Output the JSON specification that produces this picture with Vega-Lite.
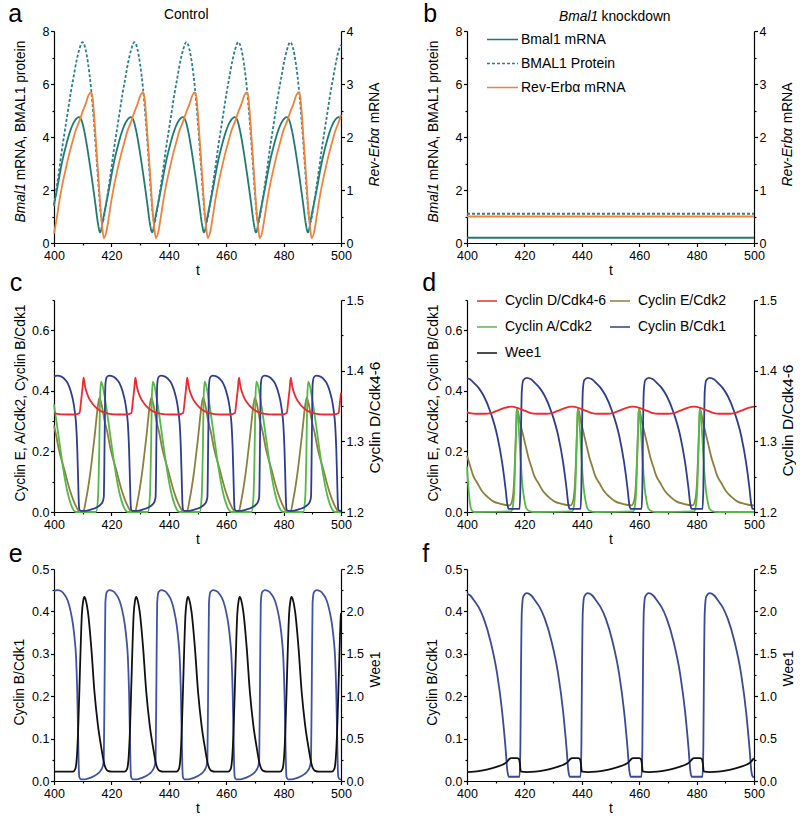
{
"$schema":"https://vega.github.io/schema/vega-lite/v6.json",
"padding":{"left":7,"top":1,"right":0,"bottom":0},
"background":"#ffffff",
"config":{"font":"Liberation Sans","view":{"stroke":null},
"axis":{"grid":false,"domainColor":"#000","tickColor":"#000","labelColor":"#000","titleColor":"#000","labelFont":"Liberation Sans","titleFont":"Liberation Sans","labelFontSize":12.5,"titleFontSize":13.8,"titleFontWeight":"normal","tickSize":3.5,"labelPadding":1.5,"domainWidth":1.2,"tickWidth":1.2,"labelFlush":false,"labelOverlap":false},
"axisX":{"labelPadding":3},
"legend":{"labelFont":"Liberation Sans","labelColor":"#000","labelFontSize":14}},
"datasets":{
"a":[
{"s":"m","t":400,"v":1.45},{"s":"m","t":401,"v":2.0},{"s":"m","t":402,"v":2.6},{"s":"m","t":403,"v":3.15},{"s":"m","t":404,"v":3.6},{"s":"m","t":405,"v":4.0},{"s":"m","t":406,"v":4.33},{"s":"m","t":407,"v":4.57},{"s":"m","t":408,"v":4.71},{"s":"m","t":408.7,"v":4.75},{"s":"m","t":409.5,"v":4.65},{"s":"m","t":410.5,"v":4.25},{"s":"m","t":411.5,"v":3.65},{"s":"m","t":412.5,"v":2.95},{"s":"m","t":413.5,"v":2.2},{"s":"m","t":414.5,"v":1.4},{"s":"m","t":415.3,"v":0.75},{"s":"m","t":416.1,"v":0.4},
{"s":"m","t":417.1,"v":0.9},{"s":"m","t":418.1,"v":1.45},{"s":"m","t":419.1,"v":2.0},{"s":"m","t":420.1,"v":2.6},{"s":"m","t":421.1,"v":3.15},{"s":"m","t":422.1,"v":3.6},{"s":"m","t":423.1,"v":4.0},{"s":"m","t":424.1,"v":4.33},{"s":"m","t":425.1,"v":4.57},{"s":"m","t":426.1,"v":4.71},{"s":"m","t":426.8,"v":4.75},{"s":"m","t":427.6,"v":4.65},{"s":"m","t":428.6,"v":4.25},{"s":"m","t":429.6,"v":3.65},{"s":"m","t":430.6,"v":2.95},{"s":"m","t":431.6,"v":2.2},{"s":"m","t":432.6,"v":1.4},{"s":"m","t":433.4,"v":0.75},{"s":"m","t":434.2,"v":0.4},
{"s":"m","t":435.2,"v":0.9},{"s":"m","t":436.2,"v":1.45},{"s":"m","t":437.2,"v":2.0},{"s":"m","t":438.2,"v":2.6},{"s":"m","t":439.2,"v":3.15},{"s":"m","t":440.2,"v":3.6},{"s":"m","t":441.2,"v":4.0},{"s":"m","t":442.2,"v":4.33},{"s":"m","t":443.2,"v":4.57},{"s":"m","t":444.2,"v":4.71},{"s":"m","t":444.9,"v":4.75},{"s":"m","t":445.7,"v":4.65},{"s":"m","t":446.7,"v":4.25},{"s":"m","t":447.7,"v":3.65},{"s":"m","t":448.7,"v":2.95},{"s":"m","t":449.7,"v":2.2},{"s":"m","t":450.7,"v":1.4},{"s":"m","t":451.5,"v":0.75},{"s":"m","t":452.3,"v":0.4},
{"s":"m","t":453.3,"v":0.9},{"s":"m","t":454.3,"v":1.45},{"s":"m","t":455.3,"v":2.0},{"s":"m","t":456.3,"v":2.6},{"s":"m","t":457.3,"v":3.15},{"s":"m","t":458.3,"v":3.6},{"s":"m","t":459.3,"v":4.0},{"s":"m","t":460.3,"v":4.33},{"s":"m","t":461.3,"v":4.57},{"s":"m","t":462.3,"v":4.71},{"s":"m","t":463.0,"v":4.75},{"s":"m","t":463.8,"v":4.65},{"s":"m","t":464.8,"v":4.25},{"s":"m","t":465.8,"v":3.65},{"s":"m","t":466.8,"v":2.95},{"s":"m","t":467.8,"v":2.2},{"s":"m","t":468.8,"v":1.4},{"s":"m","t":469.6,"v":0.75},{"s":"m","t":470.4,"v":0.4},
{"s":"m","t":471.4,"v":0.9},{"s":"m","t":472.4,"v":1.45},{"s":"m","t":473.4,"v":2.0},{"s":"m","t":474.4,"v":2.6},{"s":"m","t":475.4,"v":3.15},{"s":"m","t":476.4,"v":3.6},{"s":"m","t":477.4,"v":4.0},{"s":"m","t":478.4,"v":4.33},{"s":"m","t":479.4,"v":4.57},{"s":"m","t":480.4,"v":4.71},{"s":"m","t":481.1,"v":4.75},{"s":"m","t":481.9,"v":4.65},{"s":"m","t":482.9,"v":4.25},{"s":"m","t":483.9,"v":3.65},{"s":"m","t":484.9,"v":2.95},{"s":"m","t":485.9,"v":2.2},{"s":"m","t":486.9,"v":1.4},{"s":"m","t":487.7,"v":0.75},{"s":"m","t":488.5,"v":0.4},
{"s":"m","t":489.5,"v":0.9},{"s":"m","t":490.5,"v":1.45},{"s":"m","t":491.5,"v":2.0},{"s":"m","t":492.5,"v":2.6},{"s":"m","t":493.5,"v":3.15},{"s":"m","t":494.5,"v":3.6},{"s":"m","t":495.5,"v":4.0},{"s":"m","t":496.5,"v":4.33},{"s":"m","t":497.5,"v":4.57},{"s":"m","t":498.5,"v":4.71},{"s":"m","t":499.2,"v":4.75},{"s":"m","t":500,"v":4.68},
{"s":"p","t":400,"v":1.4},{"s":"p","t":400.8,"v":2.0},{"s":"p","t":401.8,"v":2.75},{"s":"p","t":402.8,"v":3.55},{"s":"p","t":403.8,"v":4.25},{"s":"p","t":404.8,"v":4.95},{"s":"p","t":405.8,"v":5.65},{"s":"p","t":406.8,"v":6.25},{"s":"p","t":407.8,"v":6.85},{"s":"p","t":408.8,"v":7.3},{"s":"p","t":409.9,"v":7.58},{"s":"p","t":410.9,"v":7.35},{"s":"p","t":411.9,"v":6.75},{"s":"p","t":412.9,"v":5.85},{"s":"p","t":413.9,"v":4.6},{"s":"p","t":414.9,"v":3.1},{"s":"p","t":415.9,"v":1.6},{"s":"p","t":416.4,"v":1.0},{"s":"p","t":416.9,"v":0.78},
{"s":"p","t":417.9,"v":1.3},{"s":"p","t":418.9,"v":2.0},{"s":"p","t":419.9,"v":2.75},{"s":"p","t":420.9,"v":3.55},{"s":"p","t":421.9,"v":4.25},{"s":"p","t":422.9,"v":4.95},{"s":"p","t":423.9,"v":5.65},{"s":"p","t":424.9,"v":6.25},{"s":"p","t":425.9,"v":6.85},{"s":"p","t":426.9,"v":7.3},{"s":"p","t":428.0,"v":7.58},{"s":"p","t":429.0,"v":7.35},{"s":"p","t":430.0,"v":6.75},{"s":"p","t":431.0,"v":5.85},{"s":"p","t":432.0,"v":4.6},{"s":"p","t":433.0,"v":3.1},{"s":"p","t":434.0,"v":1.6},{"s":"p","t":434.5,"v":1.0},{"s":"p","t":435.0,"v":0.78},
{"s":"p","t":436.0,"v":1.3},{"s":"p","t":437.0,"v":2.0},{"s":"p","t":438.0,"v":2.75},{"s":"p","t":439.0,"v":3.55},{"s":"p","t":440.0,"v":4.25},{"s":"p","t":441.0,"v":4.95},{"s":"p","t":442.0,"v":5.65},{"s":"p","t":443.0,"v":6.25},{"s":"p","t":444.0,"v":6.85},{"s":"p","t":445.0,"v":7.3},{"s":"p","t":446.1,"v":7.58},{"s":"p","t":447.1,"v":7.35},{"s":"p","t":448.1,"v":6.75},{"s":"p","t":449.1,"v":5.85},{"s":"p","t":450.1,"v":4.6},{"s":"p","t":451.1,"v":3.1},{"s":"p","t":452.1,"v":1.6},{"s":"p","t":452.6,"v":1.0},{"s":"p","t":453.1,"v":0.78},
{"s":"p","t":454.1,"v":1.3},{"s":"p","t":455.1,"v":2.0},{"s":"p","t":456.1,"v":2.75},{"s":"p","t":457.1,"v":3.55},{"s":"p","t":458.1,"v":4.25},{"s":"p","t":459.1,"v":4.95},{"s":"p","t":460.1,"v":5.65},{"s":"p","t":461.1,"v":6.25},{"s":"p","t":462.1,"v":6.85},{"s":"p","t":463.1,"v":7.3},{"s":"p","t":464.2,"v":7.58},{"s":"p","t":465.2,"v":7.35},{"s":"p","t":466.2,"v":6.75},{"s":"p","t":467.2,"v":5.85},{"s":"p","t":468.2,"v":4.6},{"s":"p","t":469.2,"v":3.1},{"s":"p","t":470.2,"v":1.6},{"s":"p","t":470.7,"v":1.0},{"s":"p","t":471.2,"v":0.78},
{"s":"p","t":472.2,"v":1.3},{"s":"p","t":473.2,"v":2.0},{"s":"p","t":474.2,"v":2.75},{"s":"p","t":475.2,"v":3.55},{"s":"p","t":476.2,"v":4.25},{"s":"p","t":477.2,"v":4.95},{"s":"p","t":478.2,"v":5.65},{"s":"p","t":479.2,"v":6.25},{"s":"p","t":480.2,"v":6.85},{"s":"p","t":481.2,"v":7.3},{"s":"p","t":482.3,"v":7.58},{"s":"p","t":483.3,"v":7.35},{"s":"p","t":484.3,"v":6.75},{"s":"p","t":485.3,"v":5.85},{"s":"p","t":486.3,"v":4.6},{"s":"p","t":487.3,"v":3.1},{"s":"p","t":488.3,"v":1.6},{"s":"p","t":488.8,"v":1.0},{"s":"p","t":489.3,"v":0.78},
{"s":"p","t":490.3,"v":1.3},{"s":"p","t":491.3,"v":2.0},{"s":"p","t":492.3,"v":2.75},{"s":"p","t":493.3,"v":3.55},{"s":"p","t":494.3,"v":4.25},{"s":"p","t":495.3,"v":4.95},{"s":"p","t":496.3,"v":5.65},{"s":"p","t":497.3,"v":6.25},{"s":"p","t":498.3,"v":6.85},{"s":"p","t":499.3,"v":7.3},{"s":"p","t":500,"v":7.48},
{"s":"r","t":400,"v":0.18},{"s":"r","t":400.9,"v":0.45},{"s":"r","t":401.8,"v":0.77},{"s":"r","t":402.9,"v":1.1},{"s":"r","t":404.1,"v":1.4},{"s":"r","t":405.4,"v":1.7},{"s":"r","t":406.4,"v":1.9},{"s":"r","t":407.4,"v":2.1},{"s":"r","t":408.7,"v":2.28},{"s":"r","t":409.9,"v":2.47},{"s":"r","t":411.0,"v":2.62},{"s":"r","t":411.9,"v":2.77},{"s":"r","t":412.8,"v":2.84},{"s":"r","t":413.3,"v":2.79},{"s":"r","t":413.9,"v":2.47},{"s":"r","t":414.5,"v":2.0},{"s":"r","t":415.1,"v":1.53},{"s":"r","t":415.7,"v":1.05},{"s":"r","t":416.2,"v":0.64},{"s":"r","t":416.8,"v":0.3},{"s":"r","t":417.4,"v":0.09},
{"s":"r","t":418.2,"v":0.2},{"s":"r","t":419.0,"v":0.45},{"s":"r","t":419.9,"v":0.77},{"s":"r","t":421.0,"v":1.1},{"s":"r","t":422.2,"v":1.4},{"s":"r","t":423.5,"v":1.7},{"s":"r","t":424.5,"v":1.9},{"s":"r","t":425.5,"v":2.1},{"s":"r","t":426.8,"v":2.28},{"s":"r","t":428.0,"v":2.47},{"s":"r","t":429.1,"v":2.62},{"s":"r","t":430.0,"v":2.77},{"s":"r","t":430.9,"v":2.84},{"s":"r","t":431.4,"v":2.79},{"s":"r","t":432.0,"v":2.47},{"s":"r","t":432.6,"v":2.0},{"s":"r","t":433.2,"v":1.53},{"s":"r","t":433.8,"v":1.05},{"s":"r","t":434.3,"v":0.64},{"s":"r","t":434.9,"v":0.3},{"s":"r","t":435.5,"v":0.09},
{"s":"r","t":436.3,"v":0.2},{"s":"r","t":437.1,"v":0.45},{"s":"r","t":438.0,"v":0.77},{"s":"r","t":439.1,"v":1.1},{"s":"r","t":440.3,"v":1.4},{"s":"r","t":441.6,"v":1.7},{"s":"r","t":442.6,"v":1.9},{"s":"r","t":443.6,"v":2.1},{"s":"r","t":444.9,"v":2.28},{"s":"r","t":446.1,"v":2.47},{"s":"r","t":447.2,"v":2.62},{"s":"r","t":448.1,"v":2.77},{"s":"r","t":449.0,"v":2.84},{"s":"r","t":449.5,"v":2.79},{"s":"r","t":450.1,"v":2.47},{"s":"r","t":450.7,"v":2.0},{"s":"r","t":451.3,"v":1.53},{"s":"r","t":451.9,"v":1.05},{"s":"r","t":452.4,"v":0.64},{"s":"r","t":453.0,"v":0.3},{"s":"r","t":453.6,"v":0.09},
{"s":"r","t":454.4,"v":0.2},{"s":"r","t":455.2,"v":0.45},{"s":"r","t":456.1,"v":0.77},{"s":"r","t":457.2,"v":1.1},{"s":"r","t":458.4,"v":1.4},{"s":"r","t":459.7,"v":1.7},{"s":"r","t":460.7,"v":1.9},{"s":"r","t":461.7,"v":2.1},{"s":"r","t":463.0,"v":2.28},{"s":"r","t":464.2,"v":2.47},{"s":"r","t":465.3,"v":2.62},{"s":"r","t":466.2,"v":2.77},{"s":"r","t":467.1,"v":2.84},{"s":"r","t":467.6,"v":2.79},{"s":"r","t":468.2,"v":2.47},{"s":"r","t":468.8,"v":2.0},{"s":"r","t":469.4,"v":1.53},{"s":"r","t":470.0,"v":1.05},{"s":"r","t":470.5,"v":0.64},{"s":"r","t":471.1,"v":0.3},{"s":"r","t":471.7,"v":0.09},
{"s":"r","t":472.5,"v":0.2},{"s":"r","t":473.3,"v":0.45},{"s":"r","t":474.2,"v":0.77},{"s":"r","t":475.3,"v":1.1},{"s":"r","t":476.5,"v":1.4},{"s":"r","t":477.8,"v":1.7},{"s":"r","t":478.8,"v":1.9},{"s":"r","t":479.8,"v":2.1},{"s":"r","t":481.1,"v":2.28},{"s":"r","t":482.3,"v":2.47},{"s":"r","t":483.4,"v":2.62},{"s":"r","t":484.3,"v":2.77},{"s":"r","t":485.2,"v":2.84},{"s":"r","t":485.7,"v":2.79},{"s":"r","t":486.3,"v":2.47},{"s":"r","t":486.9,"v":2.0},{"s":"r","t":487.5,"v":1.53},{"s":"r","t":488.1,"v":1.05},{"s":"r","t":488.6,"v":0.64},{"s":"r","t":489.2,"v":0.3},{"s":"r","t":489.8,"v":0.09},
{"s":"r","t":490.6,"v":0.2},{"s":"r","t":491.4,"v":0.45},{"s":"r","t":492.3,"v":0.77},{"s":"r","t":493.4,"v":1.1},{"s":"r","t":494.6,"v":1.4},{"s":"r","t":495.9,"v":1.7},{"s":"r","t":496.9,"v":1.9},{"s":"r","t":497.9,"v":2.1},{"s":"r","t":499.2,"v":2.28},{"s":"r","t":500,"v":2.42}
],
"b":[{"s":"Bmal1 mRNA","t":400,"v":0.2},{"s":"Bmal1 mRNA","t":500,"v":0.2},{"s":"BMAL1 Protein","t":400,"v":1.1},{"s":"BMAL1 Protein","t":500,"v":1.1},{"s":"Rev-Erbα mRNA","t":400,"v":0.5},{"s":"Rev-Erbα mRNA","t":500,"v":0.5}],
"cc":[
{"s":"E","t":400,"v":0.285},{"s":"E","t":400.6,"v":0.26},{"s":"E","t":401.6,"v":0.21},{"s":"E","t":403.6,"v":0.14},{"s":"E","t":405.6,"v":0.07},{"s":"E","t":407.6,"v":0.02},{"s":"E","t":409.1,"v":0.0},{"s":"E","t":410.15,"v":0.0},{"s":"E","t":411.15,"v":0.04},{"s":"E","t":412.65,"v":0.13},{"s":"E","t":414.15,"v":0.25},{"s":"E","t":415.45,"v":0.36},{"s":"E","t":415.85,"v":0.377},{"s":"E","t":416.45,"v":0.36},{"s":"E","t":417.65,"v":0.3},{"s":"E","t":418.65,"v":0.26},{"s":"E","t":419.65,"v":0.21},{"s":"E","t":421.65,"v":0.14},{"s":"E","t":423.65,"v":0.07},{"s":"E","t":425.65,"v":0.02},{"s":"E","t":427.15,"v":0.0},
{"s":"E","t":428.2,"v":0.0},{"s":"E","t":429.2,"v":0.04},{"s":"E","t":430.7,"v":0.13},{"s":"E","t":432.2,"v":0.25},{"s":"E","t":433.5,"v":0.36},{"s":"E","t":433.9,"v":0.377},{"s":"E","t":434.5,"v":0.36},{"s":"E","t":435.7,"v":0.3},{"s":"E","t":436.7,"v":0.26},{"s":"E","t":437.7,"v":0.21},{"s":"E","t":439.7,"v":0.14},{"s":"E","t":441.7,"v":0.07},{"s":"E","t":443.7,"v":0.02},{"s":"E","t":445.2,"v":0.0},
{"s":"E","t":446.25,"v":0.0},{"s":"E","t":447.25,"v":0.04},{"s":"E","t":448.75,"v":0.13},{"s":"E","t":450.25,"v":0.25},{"s":"E","t":451.55,"v":0.36},{"s":"E","t":451.95,"v":0.377},{"s":"E","t":452.55,"v":0.36},{"s":"E","t":453.75,"v":0.3},{"s":"E","t":454.75,"v":0.26},{"s":"E","t":455.75,"v":0.21},{"s":"E","t":457.75,"v":0.14},{"s":"E","t":459.75,"v":0.07},{"s":"E","t":461.75,"v":0.02},{"s":"E","t":463.25,"v":0.0},
{"s":"E","t":464.3,"v":0.0},{"s":"E","t":465.3,"v":0.04},{"s":"E","t":466.8,"v":0.13},{"s":"E","t":468.3,"v":0.25},{"s":"E","t":469.6,"v":0.36},{"s":"E","t":470.0,"v":0.377},{"s":"E","t":470.6,"v":0.36},{"s":"E","t":471.8,"v":0.3},{"s":"E","t":472.8,"v":0.26},{"s":"E","t":473.8,"v":0.21},{"s":"E","t":475.8,"v":0.14},{"s":"E","t":477.8,"v":0.07},{"s":"E","t":479.8,"v":0.02},{"s":"E","t":481.3,"v":0.0},
{"s":"E","t":482.35,"v":0.0},{"s":"E","t":483.35,"v":0.04},{"s":"E","t":484.85,"v":0.13},{"s":"E","t":486.35,"v":0.25},{"s":"E","t":487.65,"v":0.36},{"s":"E","t":488.05,"v":0.377},{"s":"E","t":488.65,"v":0.36},{"s":"E","t":489.85,"v":0.3},{"s":"E","t":490.85,"v":0.26},{"s":"E","t":491.85,"v":0.21},{"s":"E","t":493.85,"v":0.14},{"s":"E","t":495.85,"v":0.07},{"s":"E","t":497.85,"v":0.02},{"s":"E","t":499.35,"v":0.0},{"s":"E","t":500,"v":0.0},
{"s":"A","t":400,"v":0.355},{"s":"A","t":401.6,"v":0.25},{"s":"A","t":403.1,"v":0.15},{"s":"A","t":404.6,"v":0.07},{"s":"A","t":406.1,"v":0.02},{"s":"A","t":407.6,"v":0.0},{"s":"A","t":414.65,"v":0.0},{"s":"A","t":415.35,"v":0.05},{"s":"A","t":415.75,"v":0.2},{"s":"A","t":416.05,"v":0.38},{"s":"A","t":416.4,"v":0.43},{"s":"A","t":416.85,"v":0.42},{"s":"A","t":418.15,"v":0.35},{"s":"A","t":419.65,"v":0.25},{"s":"A","t":421.15,"v":0.15},{"s":"A","t":422.65,"v":0.07},{"s":"A","t":424.15,"v":0.02},{"s":"A","t":425.65,"v":0.0},
{"s":"A","t":432.7,"v":0.0},{"s":"A","t":433.4,"v":0.05},{"s":"A","t":433.8,"v":0.2},{"s":"A","t":434.1,"v":0.38},{"s":"A","t":434.45,"v":0.43},{"s":"A","t":434.9,"v":0.42},{"s":"A","t":436.2,"v":0.35},{"s":"A","t":437.7,"v":0.25},{"s":"A","t":439.2,"v":0.15},{"s":"A","t":440.7,"v":0.07},{"s":"A","t":442.2,"v":0.02},{"s":"A","t":443.7,"v":0.0},
{"s":"A","t":450.75,"v":0.0},{"s":"A","t":451.45,"v":0.05},{"s":"A","t":451.85,"v":0.2},{"s":"A","t":452.15,"v":0.38},{"s":"A","t":452.5,"v":0.43},{"s":"A","t":452.95,"v":0.42},{"s":"A","t":454.25,"v":0.35},{"s":"A","t":455.75,"v":0.25},{"s":"A","t":457.25,"v":0.15},{"s":"A","t":458.75,"v":0.07},{"s":"A","t":460.25,"v":0.02},{"s":"A","t":461.75,"v":0.0},
{"s":"A","t":468.8,"v":0.0},{"s":"A","t":469.5,"v":0.05},{"s":"A","t":469.9,"v":0.2},{"s":"A","t":470.2,"v":0.38},{"s":"A","t":470.55,"v":0.43},{"s":"A","t":471.0,"v":0.42},{"s":"A","t":472.3,"v":0.35},{"s":"A","t":473.8,"v":0.25},{"s":"A","t":475.3,"v":0.15},{"s":"A","t":476.8,"v":0.07},{"s":"A","t":478.3,"v":0.02},{"s":"A","t":479.8,"v":0.0},
{"s":"A","t":486.85,"v":0.0},{"s":"A","t":487.55,"v":0.05},{"s":"A","t":487.95,"v":0.2},{"s":"A","t":488.25,"v":0.38},{"s":"A","t":488.6,"v":0.43},{"s":"A","t":489.05,"v":0.42},{"s":"A","t":490.35,"v":0.35},{"s":"A","t":491.85,"v":0.25},{"s":"A","t":493.35,"v":0.15},{"s":"A","t":494.85,"v":0.07},{"s":"A","t":496.35,"v":0.02},{"s":"A","t":497.85,"v":0.0},{"s":"A","t":500,"v":0.0},
{"s":"D","t":400,"v":1.340},{"s":"D","t":401.25,"v":1.339},{"s":"D","t":404.25,"v":1.338},{"s":"D","t":407.25,"v":1.338},{"s":"D","t":408.9,"v":1.340},{"s":"D","t":409.4,"v":1.356},{"s":"D","t":409.9,"v":1.374},{"s":"D","t":410.3,"v":1.390},{"s":"D","t":410.8,"v":1.378},{"s":"D","t":411.4,"v":1.369},{"s":"D","t":412.3,"v":1.360},{"s":"D","t":413.3,"v":1.354},{"s":"D","t":414.3,"v":1.349},{"s":"D","t":415.8,"v":1.344},{"s":"D","t":417.3,"v":1.341},{"s":"D","t":419.3,"v":1.339},{"s":"D","t":422.3,"v":1.338},{"s":"D","t":425.3,"v":1.338},
{"s":"D","t":426.95,"v":1.340},{"s":"D","t":427.45,"v":1.356},{"s":"D","t":427.95,"v":1.374},{"s":"D","t":428.35,"v":1.390},{"s":"D","t":428.85,"v":1.378},{"s":"D","t":429.45,"v":1.369},{"s":"D","t":430.35,"v":1.360},{"s":"D","t":431.35,"v":1.354},{"s":"D","t":432.35,"v":1.349},{"s":"D","t":433.85,"v":1.344},{"s":"D","t":435.35,"v":1.341},{"s":"D","t":437.35,"v":1.339},{"s":"D","t":440.35,"v":1.338},{"s":"D","t":443.35,"v":1.338},
{"s":"D","t":445.0,"v":1.340},{"s":"D","t":445.5,"v":1.356},{"s":"D","t":446.0,"v":1.374},{"s":"D","t":446.4,"v":1.390},{"s":"D","t":446.9,"v":1.378},{"s":"D","t":447.5,"v":1.369},{"s":"D","t":448.4,"v":1.360},{"s":"D","t":449.4,"v":1.354},{"s":"D","t":450.4,"v":1.349},{"s":"D","t":451.9,"v":1.344},{"s":"D","t":453.4,"v":1.341},{"s":"D","t":455.4,"v":1.339},{"s":"D","t":458.4,"v":1.338},{"s":"D","t":461.4,"v":1.338},
{"s":"D","t":463.05,"v":1.340},{"s":"D","t":463.55,"v":1.356},{"s":"D","t":464.05,"v":1.374},{"s":"D","t":464.45,"v":1.390},{"s":"D","t":464.95,"v":1.378},{"s":"D","t":465.55,"v":1.369},{"s":"D","t":466.45,"v":1.360},{"s":"D","t":467.45,"v":1.354},{"s":"D","t":468.45,"v":1.349},{"s":"D","t":469.95,"v":1.344},{"s":"D","t":471.45,"v":1.341},{"s":"D","t":473.45,"v":1.339},{"s":"D","t":476.45,"v":1.338},{"s":"D","t":479.45,"v":1.338},
{"s":"D","t":481.1,"v":1.340},{"s":"D","t":481.6,"v":1.356},{"s":"D","t":482.1,"v":1.374},{"s":"D","t":482.5,"v":1.390},{"s":"D","t":483.0,"v":1.378},{"s":"D","t":483.6,"v":1.369},{"s":"D","t":484.5,"v":1.360},{"s":"D","t":485.5,"v":1.354},{"s":"D","t":486.5,"v":1.349},{"s":"D","t":488.0,"v":1.344},{"s":"D","t":489.5,"v":1.341},{"s":"D","t":491.5,"v":1.339},{"s":"D","t":494.5,"v":1.338},{"s":"D","t":497.5,"v":1.338},
{"s":"D","t":499.15,"v":1.340},{"s":"D","t":499.65,"v":1.356},{"s":"D","t":500,"v":1.369}
],
"cB":[
{"s":"B","t":400,"v":0.448},{"s":"B","t":401.2,"v":0.45},{"s":"B","t":402.4,"v":0.448},{"s":"B","t":403.6,"v":0.44},{"s":"B","t":404.8,"v":0.425},{"s":"B","t":405.8,"v":0.40},{"s":"B","t":406.6,"v":0.37},{"s":"B","t":407.2,"v":0.335},{"s":"B","t":407.7,"v":0.29},{"s":"B","t":408.1,"v":0.21},{"s":"B","t":408.4,"v":0.11},{"s":"B","t":408.6,"v":0.04},{"s":"B","t":408.8,"v":0.01},{"s":"B","t":409.3,"v":0.004},{"s":"B","t":410.8,"v":0.004},{"s":"B","t":412.8,"v":0.008},{"s":"B","t":414.8,"v":0.015},{"s":"B","t":416.3,"v":0.025},{"s":"B","t":417.0,"v":0.035},{"s":"B","t":417.35,"v":0.05},
{"s":"B","t":417.65,"v":0.25},{"s":"B","t":417.9,"v":0.42},{"s":"B","t":418.35,"v":0.445},{"s":"B","t":419.25,"v":0.45},{"s":"B","t":420.45,"v":0.448},{"s":"B","t":421.65,"v":0.44},{"s":"B","t":422.85,"v":0.425},{"s":"B","t":423.85,"v":0.40},{"s":"B","t":424.65,"v":0.37},{"s":"B","t":425.25,"v":0.335},{"s":"B","t":425.75,"v":0.29},{"s":"B","t":426.15,"v":0.21},{"s":"B","t":426.45,"v":0.11},{"s":"B","t":426.65,"v":0.04},{"s":"B","t":426.85,"v":0.01},{"s":"B","t":427.35,"v":0.004},{"s":"B","t":428.85,"v":0.004},{"s":"B","t":430.85,"v":0.008},{"s":"B","t":432.85,"v":0.015},{"s":"B","t":434.35,"v":0.025},{"s":"B","t":435.05,"v":0.035},{"s":"B","t":435.4,"v":0.05},
{"s":"B","t":435.7,"v":0.25},{"s":"B","t":435.95,"v":0.42},{"s":"B","t":436.4,"v":0.445},{"s":"B","t":437.3,"v":0.45},{"s":"B","t":438.5,"v":0.448},{"s":"B","t":439.7,"v":0.44},{"s":"B","t":440.9,"v":0.425},{"s":"B","t":441.9,"v":0.40},{"s":"B","t":442.7,"v":0.37},{"s":"B","t":443.3,"v":0.335},{"s":"B","t":443.8,"v":0.29},{"s":"B","t":444.2,"v":0.21},{"s":"B","t":444.5,"v":0.11},{"s":"B","t":444.7,"v":0.04},{"s":"B","t":444.9,"v":0.01},{"s":"B","t":445.4,"v":0.004},{"s":"B","t":446.9,"v":0.004},{"s":"B","t":448.9,"v":0.008},{"s":"B","t":450.9,"v":0.015},{"s":"B","t":452.4,"v":0.025},{"s":"B","t":453.1,"v":0.035},{"s":"B","t":453.45,"v":0.05},
{"s":"B","t":453.75,"v":0.25},{"s":"B","t":454.0,"v":0.42},{"s":"B","t":454.45,"v":0.445},{"s":"B","t":455.35,"v":0.45},{"s":"B","t":456.55,"v":0.448},{"s":"B","t":457.75,"v":0.44},{"s":"B","t":458.95,"v":0.425},{"s":"B","t":459.95,"v":0.40},{"s":"B","t":460.75,"v":0.37},{"s":"B","t":461.35,"v":0.335},{"s":"B","t":461.85,"v":0.29},{"s":"B","t":462.25,"v":0.21},{"s":"B","t":462.55,"v":0.11},{"s":"B","t":462.75,"v":0.04},{"s":"B","t":462.95,"v":0.01},{"s":"B","t":463.45,"v":0.004},{"s":"B","t":464.95,"v":0.004},{"s":"B","t":466.95,"v":0.008},{"s":"B","t":468.95,"v":0.015},{"s":"B","t":470.45,"v":0.025},{"s":"B","t":471.15,"v":0.035},{"s":"B","t":471.5,"v":0.05},
{"s":"B","t":471.8,"v":0.25},{"s":"B","t":472.05,"v":0.42},{"s":"B","t":472.5,"v":0.445},{"s":"B","t":473.4,"v":0.45},{"s":"B","t":474.6,"v":0.448},{"s":"B","t":475.8,"v":0.44},{"s":"B","t":477.0,"v":0.425},{"s":"B","t":478.0,"v":0.40},{"s":"B","t":478.8,"v":0.37},{"s":"B","t":479.4,"v":0.335},{"s":"B","t":479.9,"v":0.29},{"s":"B","t":480.3,"v":0.21},{"s":"B","t":480.6,"v":0.11},{"s":"B","t":480.8,"v":0.04},{"s":"B","t":481.0,"v":0.01},{"s":"B","t":481.5,"v":0.004},{"s":"B","t":483.0,"v":0.004},{"s":"B","t":485.0,"v":0.008},{"s":"B","t":487.0,"v":0.015},{"s":"B","t":488.5,"v":0.025},{"s":"B","t":489.2,"v":0.035},{"s":"B","t":489.55,"v":0.05},
{"s":"B","t":489.85,"v":0.25},{"s":"B","t":490.1,"v":0.42},{"s":"B","t":490.55,"v":0.445},{"s":"B","t":491.45,"v":0.45},{"s":"B","t":492.65,"v":0.448},{"s":"B","t":493.85,"v":0.44},{"s":"B","t":495.05,"v":0.425},{"s":"B","t":496.05,"v":0.40},{"s":"B","t":496.85,"v":0.37},{"s":"B","t":497.45,"v":0.335},{"s":"B","t":497.95,"v":0.29},{"s":"B","t":498.35,"v":0.21},{"s":"B","t":498.65,"v":0.11},{"s":"B","t":498.85,"v":0.04},{"s":"B","t":499.05,"v":0.01},{"s":"B","t":499.55,"v":0.004},{"s":"B","t":500,"v":0.004}
],
"cW":[
{"s":"W","t":400,"v":0.11},{"s":"W","t":406.6,"v":0.11},{"s":"W","t":407.4,"v":0.14},{"s":"W","t":408.0,"v":0.3},{"s":"W","t":408.4,"v":0.58},{"s":"W","t":409.1,"v":1.37},{"s":"W","t":409.7,"v":1.96},{"s":"W","t":410.2,"v":2.13},{"s":"W","t":410.6,"v":2.17},{"s":"W","t":411.1,"v":2.13},{"s":"W","t":411.8,"v":2.0},{"s":"W","t":413.0,"v":1.57},{"s":"W","t":414.1,"v":1.05},{"s":"W","t":415.3,"v":0.66},{"s":"W","t":416.5,"v":0.39},{"s":"W","t":417.6,"v":0.19},{"s":"W","t":418.8,"v":0.12},{"s":"W","t":420.1,"v":0.11},
{"s":"W","t":424.65,"v":0.11},{"s":"W","t":425.45,"v":0.14},{"s":"W","t":426.05,"v":0.3},{"s":"W","t":426.45,"v":0.58},{"s":"W","t":427.15,"v":1.37},{"s":"W","t":427.75,"v":1.96},{"s":"W","t":428.25,"v":2.13},{"s":"W","t":428.65,"v":2.17},{"s":"W","t":429.15,"v":2.13},{"s":"W","t":429.85,"v":2.0},{"s":"W","t":431.05,"v":1.57},{"s":"W","t":432.15,"v":1.05},{"s":"W","t":433.35,"v":0.66},{"s":"W","t":434.55,"v":0.39},{"s":"W","t":435.65,"v":0.19},{"s":"W","t":436.85,"v":0.12},{"s":"W","t":438.15,"v":0.11},
{"s":"W","t":442.7,"v":0.11},{"s":"W","t":443.5,"v":0.14},{"s":"W","t":444.1,"v":0.3},{"s":"W","t":444.5,"v":0.58},{"s":"W","t":445.2,"v":1.37},{"s":"W","t":445.8,"v":1.96},{"s":"W","t":446.3,"v":2.13},{"s":"W","t":446.7,"v":2.17},{"s":"W","t":447.2,"v":2.13},{"s":"W","t":447.9,"v":2.0},{"s":"W","t":449.1,"v":1.57},{"s":"W","t":450.2,"v":1.05},{"s":"W","t":451.4,"v":0.66},{"s":"W","t":452.6,"v":0.39},{"s":"W","t":453.7,"v":0.19},{"s":"W","t":454.9,"v":0.12},{"s":"W","t":456.2,"v":0.11},
{"s":"W","t":460.75,"v":0.11},{"s":"W","t":461.55,"v":0.14},{"s":"W","t":462.15,"v":0.3},{"s":"W","t":462.55,"v":0.58},{"s":"W","t":463.25,"v":1.37},{"s":"W","t":463.85,"v":1.96},{"s":"W","t":464.35,"v":2.13},{"s":"W","t":464.75,"v":2.17},{"s":"W","t":465.25,"v":2.13},{"s":"W","t":465.95,"v":2.0},{"s":"W","t":467.15,"v":1.57},{"s":"W","t":468.25,"v":1.05},{"s":"W","t":469.45,"v":0.66},{"s":"W","t":470.65,"v":0.39},{"s":"W","t":471.75,"v":0.19},{"s":"W","t":472.95,"v":0.12},{"s":"W","t":474.25,"v":0.11},
{"s":"W","t":478.8,"v":0.11},{"s":"W","t":479.6,"v":0.14},{"s":"W","t":480.2,"v":0.3},{"s":"W","t":480.6,"v":0.58},{"s":"W","t":481.3,"v":1.37},{"s":"W","t":481.9,"v":1.96},{"s":"W","t":482.4,"v":2.13},{"s":"W","t":482.8,"v":2.17},{"s":"W","t":483.3,"v":2.13},{"s":"W","t":484.0,"v":2.0},{"s":"W","t":485.2,"v":1.57},{"s":"W","t":486.3,"v":1.05},{"s":"W","t":487.5,"v":0.66},{"s":"W","t":488.7,"v":0.39},{"s":"W","t":489.8,"v":0.19},{"s":"W","t":491.0,"v":0.12},{"s":"W","t":492.3,"v":0.11},
{"s":"W","t":496.85,"v":0.11},{"s":"W","t":497.65,"v":0.14},{"s":"W","t":498.25,"v":0.3},{"s":"W","t":498.65,"v":0.58},{"s":"W","t":499.35,"v":1.37},{"s":"W","t":499.95,"v":1.96},{"s":"W","t":500,"v":1.98}
],
"kc":[
{"s":"E","t":400,"v":0.186},{"s":"E","t":401.15,"v":0.15},{"s":"E","t":402.15,"v":0.12},{"s":"E","t":403.65,"v":0.095},{"s":"E","t":405.15,"v":0.07},{"s":"E","t":407.15,"v":0.05},{"s":"E","t":409.15,"v":0.035},{"s":"E","t":411.65,"v":0.027},{"s":"E","t":414.9,"v":0.022},{"s":"E","t":415.8,"v":0.04},{"s":"E","t":416.4,"v":0.1},{"s":"E","t":416.9,"v":0.22},{"s":"E","t":417.25,"v":0.31},
{"s":"E","t":417.4,"v":0.34},{"s":"E","t":417.8,"v":0.33},{"s":"E","t":418.4,"v":0.3},{"s":"E","t":419.4,"v":0.26},{"s":"E","t":420.4,"v":0.22},{"s":"E","t":421.4,"v":0.18},{"s":"E","t":422.4,"v":0.15},{"s":"E","t":423.4,"v":0.12},{"s":"E","t":424.9,"v":0.095},{"s":"E","t":426.4,"v":0.07},{"s":"E","t":428.4,"v":0.05},{"s":"E","t":430.4,"v":0.035},{"s":"E","t":432.9,"v":0.027},{"s":"E","t":436.15,"v":0.022},{"s":"E","t":437.05,"v":0.04},{"s":"E","t":437.65,"v":0.1},{"s":"E","t":438.15,"v":0.22},{"s":"E","t":438.5,"v":0.31},
{"s":"E","t":438.65,"v":0.34},{"s":"E","t":439.05,"v":0.33},{"s":"E","t":439.65,"v":0.3},{"s":"E","t":440.65,"v":0.26},{"s":"E","t":441.65,"v":0.22},{"s":"E","t":442.65,"v":0.18},{"s":"E","t":443.65,"v":0.15},{"s":"E","t":444.65,"v":0.12},{"s":"E","t":446.15,"v":0.095},{"s":"E","t":447.65,"v":0.07},{"s":"E","t":449.65,"v":0.05},{"s":"E","t":451.65,"v":0.035},{"s":"E","t":454.15,"v":0.027},{"s":"E","t":457.4,"v":0.022},{"s":"E","t":458.3,"v":0.04},{"s":"E","t":458.9,"v":0.1},{"s":"E","t":459.4,"v":0.22},{"s":"E","t":459.75,"v":0.31},
{"s":"E","t":459.9,"v":0.34},{"s":"E","t":460.3,"v":0.33},{"s":"E","t":460.9,"v":0.3},{"s":"E","t":461.9,"v":0.26},{"s":"E","t":462.9,"v":0.22},{"s":"E","t":463.9,"v":0.18},{"s":"E","t":464.9,"v":0.15},{"s":"E","t":465.9,"v":0.12},{"s":"E","t":467.4,"v":0.095},{"s":"E","t":468.9,"v":0.07},{"s":"E","t":470.9,"v":0.05},{"s":"E","t":472.9,"v":0.035},{"s":"E","t":475.4,"v":0.027},{"s":"E","t":478.65,"v":0.022},{"s":"E","t":479.55,"v":0.04},{"s":"E","t":480.15,"v":0.1},{"s":"E","t":480.65,"v":0.22},{"s":"E","t":481.0,"v":0.31},
{"s":"E","t":481.15,"v":0.34},{"s":"E","t":481.55,"v":0.33},{"s":"E","t":482.15,"v":0.3},{"s":"E","t":483.15,"v":0.26},{"s":"E","t":484.15,"v":0.22},{"s":"E","t":485.15,"v":0.18},{"s":"E","t":486.15,"v":0.15},{"s":"E","t":487.15,"v":0.12},{"s":"E","t":488.65,"v":0.095},{"s":"E","t":490.15,"v":0.07},{"s":"E","t":492.15,"v":0.05},{"s":"E","t":494.15,"v":0.035},{"s":"E","t":496.65,"v":0.027},{"s":"E","t":499.9,"v":0.022},{"s":"E","t":500,"v":0.022},
{"s":"A","t":400,"v":0.15},{"s":"A","t":400.5,"v":0.08},{"s":"A","t":401.0,"v":0.03},{"s":"A","t":401.7,"v":0.005},{"s":"A","t":402.5,"v":0.0},{"s":"A","t":415.4,"v":0.002},{"s":"A","t":416.0,"v":0.02},{"s":"A","t":416.5,"v":0.08},{"s":"A","t":416.95,"v":0.22},{"s":"A","t":417.3,"v":0.33},{"s":"A","t":417.5,"v":0.34},{"s":"A","t":417.9,"v":0.3},{"s":"A","t":418.4,"v":0.22},{"s":"A","t":418.9,"v":0.14},{"s":"A","t":419.4,"v":0.08},{"s":"A","t":420.0,"v":0.04},{"s":"A","t":420.7,"v":0.012},{"s":"A","t":421.9,"v":0.002},{"s":"A","t":423.4,"v":0.0},
{"s":"A","t":436.65,"v":0.002},{"s":"A","t":437.25,"v":0.02},{"s":"A","t":437.75,"v":0.08},{"s":"A","t":438.2,"v":0.22},{"s":"A","t":438.55,"v":0.33},{"s":"A","t":438.75,"v":0.34},{"s":"A","t":439.15,"v":0.3},{"s":"A","t":439.65,"v":0.22},{"s":"A","t":440.15,"v":0.14},{"s":"A","t":440.65,"v":0.08},{"s":"A","t":441.25,"v":0.04},{"s":"A","t":441.95,"v":0.012},{"s":"A","t":443.15,"v":0.002},{"s":"A","t":444.65,"v":0.0},
{"s":"A","t":457.9,"v":0.002},{"s":"A","t":458.5,"v":0.02},{"s":"A","t":459.0,"v":0.08},{"s":"A","t":459.45,"v":0.22},{"s":"A","t":459.8,"v":0.33},{"s":"A","t":460.0,"v":0.34},{"s":"A","t":460.4,"v":0.3},{"s":"A","t":460.9,"v":0.22},{"s":"A","t":461.4,"v":0.14},{"s":"A","t":461.9,"v":0.08},{"s":"A","t":462.5,"v":0.04},{"s":"A","t":463.2,"v":0.012},{"s":"A","t":464.4,"v":0.002},{"s":"A","t":465.9,"v":0.0},
{"s":"A","t":479.15,"v":0.002},{"s":"A","t":479.75,"v":0.02},{"s":"A","t":480.25,"v":0.08},{"s":"A","t":480.7,"v":0.22},{"s":"A","t":481.05,"v":0.33},{"s":"A","t":481.25,"v":0.34},{"s":"A","t":481.65,"v":0.3},{"s":"A","t":482.15,"v":0.22},{"s":"A","t":482.65,"v":0.14},{"s":"A","t":483.15,"v":0.08},{"s":"A","t":483.75,"v":0.04},{"s":"A","t":484.45,"v":0.012},{"s":"A","t":485.65,"v":0.002},{"s":"A","t":487.15,"v":0.0},{"s":"A","t":500,"v":0.0},
{"s":"D","t":400,"v":1.341},{"s":"D","t":401.05,"v":1.340},{"s":"D","t":403.05,"v":1.339},{"s":"D","t":404.65,"v":1.339},{"s":"D","t":406.3,"v":1.339},{"s":"D","t":408.3,"v":1.340},{"s":"D","t":410.3,"v":1.343},{"s":"D","t":412.8,"v":1.347},{"s":"D","t":415.3,"v":1.349},{"s":"D","t":417.8,"v":1.347},{"s":"D","t":420.3,"v":1.343},{"s":"D","t":422.3,"v":1.340},{"s":"D","t":424.3,"v":1.339},{"s":"D","t":425.9,"v":1.339},{"s":"D","t":427.55,"v":1.339},{"s":"D","t":429.55,"v":1.340},{"s":"D","t":431.55,"v":1.343},{"s":"D","t":434.05,"v":1.347},{"s":"D","t":436.55,"v":1.349},{"s":"D","t":439.05,"v":1.347},{"s":"D","t":441.55,"v":1.343},{"s":"D","t":443.55,"v":1.340},{"s":"D","t":445.55,"v":1.339},{"s":"D","t":447.15,"v":1.339},{"s":"D","t":448.8,"v":1.339},{"s":"D","t":450.8,"v":1.340},{"s":"D","t":452.8,"v":1.343},{"s":"D","t":455.3,"v":1.347},{"s":"D","t":457.8,"v":1.349},{"s":"D","t":460.3,"v":1.347},{"s":"D","t":462.8,"v":1.343},{"s":"D","t":464.8,"v":1.340},{"s":"D","t":466.8,"v":1.339},{"s":"D","t":468.4,"v":1.339},{"s":"D","t":470.05,"v":1.339},{"s":"D","t":472.05,"v":1.340},{"s":"D","t":474.05,"v":1.343},{"s":"D","t":476.55,"v":1.347},{"s":"D","t":479.05,"v":1.349},{"s":"D","t":481.55,"v":1.347},{"s":"D","t":484.05,"v":1.343},{"s":"D","t":486.05,"v":1.340},{"s":"D","t":488.05,"v":1.339},{"s":"D","t":489.65,"v":1.339},{"s":"D","t":491.3,"v":1.339},{"s":"D","t":493.3,"v":1.340},{"s":"D","t":495.3,"v":1.343},{"s":"D","t":497.8,"v":1.347},{"s":"D","t":500,"v":1.349}
],
"kB":[
{"s":"B","t":400,"v":0.442},{"s":"B","t":401.05,"v":0.438},{"s":"B","t":402.55,"v":0.425},{"s":"B","t":404.05,"v":0.41},{"s":"B","t":405.85,"v":0.383},{"s":"B","t":408.25,"v":0.328},{"s":"B","t":410.55,"v":0.251},{"s":"B","t":412.25,"v":0.163},{"s":"B","t":413.45,"v":0.076},{"s":"B","t":414.05,"v":0.025},{"s":"B","t":414.55,"v":0.01},{"s":"B","t":418.3,"v":0.01},{"s":"B","t":418.6,"v":0.08},
{"s":"B","t":418.8,"v":0.25},{"s":"B","t":419.1,"v":0.40},{"s":"B","t":419.6,"v":0.435},{"s":"B","t":420.8,"v":0.443},{"s":"B","t":422.3,"v":0.438},{"s":"B","t":423.8,"v":0.425},{"s":"B","t":425.3,"v":0.41},{"s":"B","t":427.1,"v":0.383},{"s":"B","t":429.5,"v":0.328},{"s":"B","t":431.8,"v":0.251},{"s":"B","t":433.5,"v":0.163},{"s":"B","t":434.7,"v":0.076},{"s":"B","t":435.3,"v":0.025},{"s":"B","t":435.8,"v":0.01},{"s":"B","t":439.55,"v":0.01},{"s":"B","t":439.85,"v":0.08},
{"s":"B","t":440.05,"v":0.25},{"s":"B","t":440.35,"v":0.40},{"s":"B","t":440.85,"v":0.435},{"s":"B","t":442.05,"v":0.443},{"s":"B","t":443.55,"v":0.438},{"s":"B","t":445.05,"v":0.425},{"s":"B","t":446.55,"v":0.41},{"s":"B","t":448.35,"v":0.383},{"s":"B","t":450.75,"v":0.328},{"s":"B","t":453.05,"v":0.251},{"s":"B","t":454.75,"v":0.163},{"s":"B","t":455.95,"v":0.076},{"s":"B","t":456.55,"v":0.025},{"s":"B","t":457.05,"v":0.01},{"s":"B","t":460.8,"v":0.01},{"s":"B","t":461.1,"v":0.08},
{"s":"B","t":461.3,"v":0.25},{"s":"B","t":461.6,"v":0.40},{"s":"B","t":462.1,"v":0.435},{"s":"B","t":463.3,"v":0.443},{"s":"B","t":464.8,"v":0.438},{"s":"B","t":466.3,"v":0.425},{"s":"B","t":467.8,"v":0.41},{"s":"B","t":469.6,"v":0.383},{"s":"B","t":472.0,"v":0.328},{"s":"B","t":474.3,"v":0.251},{"s":"B","t":476.0,"v":0.163},{"s":"B","t":477.2,"v":0.076},{"s":"B","t":477.8,"v":0.025},{"s":"B","t":478.3,"v":0.01},{"s":"B","t":482.05,"v":0.01},{"s":"B","t":482.35,"v":0.08},
{"s":"B","t":482.55,"v":0.25},{"s":"B","t":482.85,"v":0.40},{"s":"B","t":483.35,"v":0.435},{"s":"B","t":484.55,"v":0.443},{"s":"B","t":486.05,"v":0.438},{"s":"B","t":487.55,"v":0.425},{"s":"B","t":489.05,"v":0.41},{"s":"B","t":490.85,"v":0.383},{"s":"B","t":493.25,"v":0.328},{"s":"B","t":495.55,"v":0.251},{"s":"B","t":497.25,"v":0.163},{"s":"B","t":498.45,"v":0.076},{"s":"B","t":499.05,"v":0.025},{"s":"B","t":499.55,"v":0.01},{"s":"B","t":500,"v":0.01}
],
"kW":[
{"s":"W","t":400,"v":0.105},{"s":"W","t":402.55,"v":0.11},{"s":"W","t":405.55,"v":0.125},{"s":"W","t":408.55,"v":0.15},{"s":"W","t":410.55,"v":0.17},{"s":"W","t":412.55,"v":0.195},{"s":"W","t":414.05,"v":0.23},{"s":"W","t":414.75,"v":0.26},{"s":"W","t":415.35,"v":0.27},{"s":"W","t":417.55,"v":0.27},{"s":"W","t":418.15,"v":0.255},{"s":"W","t":418.45,"v":0.2},{"s":"W","t":418.7,"v":0.12},{"s":"W","t":418.95,"v":0.11},
{"s":"W","t":420.8,"v":0.105},{"s":"W","t":423.8,"v":0.11},{"s":"W","t":426.8,"v":0.125},{"s":"W","t":429.8,"v":0.15},{"s":"W","t":431.8,"v":0.17},{"s":"W","t":433.8,"v":0.195},{"s":"W","t":435.3,"v":0.23},{"s":"W","t":436.0,"v":0.26},{"s":"W","t":436.6,"v":0.27},{"s":"W","t":438.8,"v":0.27},{"s":"W","t":439.4,"v":0.255},{"s":"W","t":439.7,"v":0.2},{"s":"W","t":439.95,"v":0.12},{"s":"W","t":440.2,"v":0.11},
{"s":"W","t":442.05,"v":0.105},{"s":"W","t":445.05,"v":0.11},{"s":"W","t":448.05,"v":0.125},{"s":"W","t":451.05,"v":0.15},{"s":"W","t":453.05,"v":0.17},{"s":"W","t":455.05,"v":0.195},{"s":"W","t":456.55,"v":0.23},{"s":"W","t":457.25,"v":0.26},{"s":"W","t":457.85,"v":0.27},{"s":"W","t":460.05,"v":0.27},{"s":"W","t":460.65,"v":0.255},{"s":"W","t":460.95,"v":0.2},{"s":"W","t":461.2,"v":0.12},{"s":"W","t":461.45,"v":0.11},
{"s":"W","t":463.3,"v":0.105},{"s":"W","t":466.3,"v":0.11},{"s":"W","t":469.3,"v":0.125},{"s":"W","t":472.3,"v":0.15},{"s":"W","t":474.3,"v":0.17},{"s":"W","t":476.3,"v":0.195},{"s":"W","t":477.8,"v":0.23},{"s":"W","t":478.5,"v":0.26},{"s":"W","t":479.1,"v":0.27},{"s":"W","t":481.3,"v":0.27},{"s":"W","t":481.9,"v":0.255},{"s":"W","t":482.2,"v":0.2},{"s":"W","t":482.45,"v":0.12},{"s":"W","t":482.7,"v":0.11},
{"s":"W","t":484.55,"v":0.105},{"s":"W","t":487.55,"v":0.11},{"s":"W","t":490.55,"v":0.125},{"s":"W","t":493.55,"v":0.15},{"s":"W","t":495.55,"v":0.17},{"s":"W","t":497.55,"v":0.195},{"s":"W","t":499.05,"v":0.23},{"s":"W","t":499.75,"v":0.26},{"s":"W","t":500,"v":0.265}
]
},
"columns":2,
"bounds":"flush",
"spacing":{"row":57,"column":126},
"resolve":{"scale":{"color":"independent","strokeDash":"independent"}},
"concat":[
{"width":287,"height":212,
"resolve":{"scale":{"y":"independent"},"axis":{"x":"independent","y":"independent"}},
"layer":[
{"data":{"name":"a"},"transform":[{"filter":"datum.s != 'r'"}],
"mark":{"type":"line","interpolate":"monotone","strokeWidth":1.8},
"encoding":{
"x":{"field":"t","type":"quantitative","scale":{"domain":[400,500],"nice":false,"zero":false},"axis":{"orient":"bottom","values":[400,420,440,460,480,500],"format":"d","title":"t","titleX":143.5,"titleY":31.5,"titleAlign":"center","titleBaseline":"alphabetic","titleAngle":0}},
"y":{"field":"v","type":"quantitative","scale":{"domain":[0,8],"nice":false,"zero":false},"axis":{"orient":"left","values":[0,2,4,6,8],"format":"d","title":"mRNA, BMAL1 protein","titleAngle":270,"titleAlign":"left","titleBaseline":"alphabetic","titleX":-30,"titleY":148.7}},
"color":{"field":"s","type":"nominal","scale":{"domain":["m","p","r"],"range":["#1f7a72","#2a7f8f","#f2823a"]},"legend":null},
"strokeDash":{"field":"s","type":"nominal","scale":{"domain":["m","p","r"],"range":[[1,0],[3,2],[1,0]]},"legend":null}}},
{"data":{"name":"a"},"transform":[{"filter":"datum.s == 'r'"}],
"mark":{"type":"line","interpolate":"monotone","strokeWidth":1.8},
"encoding":{
"x":{"field":"t","type":"quantitative","scale":{"domain":[400,500],"nice":false,"zero":false},"axis":null},
"y":{"field":"v","type":"quantitative","scale":{"domain":[0,4],"nice":false,"zero":false},"axis":{"orient":"right","values":[0,1,2,3,4],"format":"d","title":"Rev-Erbα","titleFontStyle":"italic","titleAngle":270,"titleAlign":"left","titleBaseline":"alphabetic","titleX":37,"titleY":155}},
"color":{"field":"s","type":"nominal","scale":{"domain":["m","p","r"],"range":["#1f7a72","#2a7f8f","#f2823a"]},"legend":null}}},
{"data":{"values":[]},"mark":{"type":"point","opacity":0},
"encoding":{
"x":{"field":"t","type":"quantitative","scale":{"domain":[400,500],"nice":false,"zero":false},"axis":{"orient":"bottom","values":[410,430,450,470,490],"tickSize":2,"labels":false,"domain":false,"title":"a","titleFontSize":25,"titleAlign":"left","titleBaseline":"alphabetic","titleAngle":0,"titleX":-46.3,"titleY":-221.3}},
"y":{"field":"v","type":"quantitative","scale":{"domain":[0,8],"nice":false,"zero":false},"axis":{"orient":"left","values":[1,3,5,7],"tickSize":2,"labels":false,"domain":false,"title":"Bmal1","titleFontStyle":"italic","titleAngle":270,"titleAlign":"left","titleBaseline":"alphabetic","titleX":-30,"titleY":191}}}},
{"data":{"values":[]},"mark":{"type":"point","opacity":0},
"encoding":{
"x":{"field":"t","type":"quantitative","scale":{"domain":[400,500],"nice":false,"zero":false},"axis":{"orient":"top","ticks":false,"labels":false,"domain":false,"title":"Control","titleAlign":"center","titleBaseline":"alphabetic","titleAngle":0,"titleX":131.7,"titleY":-12.3}},
"y":{"field":"v","type":"quantitative","scale":{"domain":[0,4],"nice":false,"zero":false},"axis":{"orient":"right","values":[0.5,1.5,2.5,3.5],"tickSize":2,"labels":false,"domain":false,"title":"mRNA","titleAngle":270,"titleAlign":"left","titleBaseline":"alphabetic","titleX":37,"titleY":91.7}}}}
]},
{"width":287,"height":212,
"resolve":{"scale":{"y":"independent"},"axis":{"x":"independent","y":"independent"}},
"layer":[
{"data":{"name":"b"},"transform":[{"filter":"datum.s != 'Rev-Erbα mRNA'"}],
"mark":{"type":"line","strokeWidth":2},
"encoding":{
"x":{"field":"t","type":"quantitative","scale":{"domain":[400,500],"nice":false,"zero":false},"axis":{"orient":"bottom","values":[400,420,440,460,480,500],"format":"d","title":"t","titleX":143.5,"titleY":31.5,"titleAlign":"center","titleBaseline":"alphabetic","titleAngle":0}},
"y":{"field":"v","type":"quantitative","scale":{"domain":[0,8],"nice":false,"zero":false},"axis":{"orient":"left","values":[0,2,4,6,8],"format":"d","title":"mRNA, BMAL1 protein","titleAngle":270,"titleAlign":"left","titleBaseline":"alphabetic","titleX":-30,"titleY":148.7}},
"color":{"field":"s","type":"nominal","scale":{"domain":["Bmal1 mRNA","BMAL1 Protein","Rev-Erbα mRNA"],"range":["#1f7a72","#2a7f8f","#f2823a"]},"legend":{"orient":"none","legendX":19,"legendY":-8,"title":null,"symbolType":"stroke","symbolSize":961,"symbolStrokeWidth":1.5,"labelFontSize":14,"labelOffset":2,"rowPadding":-14,"labelLimit":300}},
"strokeDash":{"field":"s","type":"nominal","scale":{"domain":["Bmal1 mRNA","BMAL1 Protein","Rev-Erbα mRNA"],"range":[[1,0],[3,2],[1,0]]},"legend":{"orient":"none","legendX":19,"legendY":-8,"title":null,"symbolType":"stroke","symbolSize":961,"symbolStrokeWidth":1.5,"labelFontSize":14,"labelOffset":2,"rowPadding":-14,"labelLimit":300}}}},
{"data":{"name":"b"},"transform":[{"filter":"datum.s == 'Rev-Erbα mRNA'"}],
"mark":{"type":"line","strokeWidth":2},
"encoding":{
"x":{"field":"t","type":"quantitative","scale":{"domain":[400,500],"nice":false,"zero":false},"axis":null},
"y":{"field":"v","type":"quantitative","scale":{"domain":[0,4],"nice":false,"zero":false},"axis":{"orient":"right","values":[0,1,2,3,4],"format":"d","title":"Rev-Erbα","titleFontStyle":"italic","titleAngle":270,"titleAlign":"left","titleBaseline":"alphabetic","titleX":37,"titleY":155}},
"color":{"field":"s","type":"nominal","scale":{"domain":["Bmal1 mRNA","BMAL1 Protein","Rev-Erbα mRNA"],"range":["#1f7a72","#2a7f8f","#f2823a"]},"legend":{"orient":"none","legendX":19,"legendY":-8,"title":null,"symbolType":"stroke","symbolSize":961,"symbolStrokeWidth":1.5,"labelFontSize":14,"labelOffset":2,"rowPadding":-14,"labelLimit":300}},
"strokeDash":{"field":"s","type":"nominal","scale":{"domain":["Bmal1 mRNA","BMAL1 Protein","Rev-Erbα mRNA"],"range":[[1,0],[3,2],[1,0]]},"legend":{"orient":"none","legendX":19,"legendY":-8,"title":null,"symbolType":"stroke","symbolSize":961,"symbolStrokeWidth":1.5,"labelFontSize":14,"labelOffset":2,"rowPadding":-14,"labelLimit":300}}}},
{"data":{"values":[]},"mark":{"type":"point","opacity":0},
"encoding":{
"x":{"field":"t","type":"quantitative","scale":{"domain":[400,500],"nice":false,"zero":false},"axis":{"orient":"bottom","values":[410,430,450,470,490],"tickSize":2,"labels":false,"domain":false,"title":"b","titleFontSize":25,"titleAlign":"left","titleBaseline":"alphabetic","titleAngle":0,"titleX":-44.3,"titleY":-221.3}},
"y":{"field":"v","type":"quantitative","scale":{"domain":[0,8],"nice":false,"zero":false},"axis":{"orient":"left","values":[1,3,5,7],"tickSize":2,"labels":false,"domain":false,"title":"Bmal1","titleFontStyle":"italic","titleAngle":270,"titleAlign":"left","titleBaseline":"alphabetic","titleX":-30,"titleY":191}}}},
{"data":{"values":[]},"mark":{"type":"point","opacity":0},
"encoding":{
"x":{"field":"t","type":"quantitative","scale":{"domain":[400,500],"nice":false,"zero":false},"axis":{"orient":"top","ticks":false,"labels":false,"domain":false,"title":"Bmal1","titleFontStyle":"italic","titleAlign":"right","titleBaseline":"alphabetic","titleAngle":0,"titleX":130.7,"titleY":-10.7}},
"y":{"field":"v","type":"quantitative","scale":{"domain":[0,4],"nice":false,"zero":false},"axis":{"orient":"right","values":[0.5,1.5,2.5,3.5],"tickSize":2,"labels":false,"domain":false,"title":"mRNA","titleAngle":270,"titleAlign":"left","titleBaseline":"alphabetic","titleX":37,"titleY":91.7}}}},
{"data":{"values":[]},"mark":{"type":"point","opacity":0},
"encoding":{
"x":{"field":"t","type":"quantitative","scale":{"domain":[400,500],"nice":false,"zero":false},"axis":{"orient":"top","ticks":false,"labels":false,"domain":false,"title":"knockdown","titleAlign":"left","titleBaseline":"alphabetic","titleAngle":0,"titleX":134,"titleY":-10.7}}}}
]},
{"width":287,"height":212,
"resolve":{"scale":{"y":"independent"},"axis":{"x":"independent","y":"independent"}},
"layer":[
{"data":{"name":"cc"},"transform":[{"filter":"datum.s != 'D'"}],
"mark":{"type":"line","interpolate":"monotone","strokeWidth":1.8},
"encoding":{
"x":{"field":"t","type":"quantitative","scale":{"domain":[400,500],"nice":false,"zero":false},"axis":{"orient":"bottom","values":[400,420,440,460,480,500],"format":"d","title":"t","titleX":143.5,"titleY":31.5,"titleAlign":"center","titleBaseline":"alphabetic","titleAngle":0}},
"y":{"field":"v","type":"quantitative","scale":{"domain":[0,0.7],"nice":false,"zero":false},"axis":{"orient":"left","values":[0,0.2,0.4,0.6],"format":".1f","title":"Cyclin E, A/Cdk2, Cyclin B/Cdk1","titleAngle":270,"titleAlign":"center","titleBaseline":"alphabetic","titleX":-29.5,"titleY":102.5}},
"color":{"field":"s","type":"nominal","scale":{"domain":["D","E","A","B"],"range":["#ee2a2e","#8d7f3e","#55b948","#2e3d8f"]},"legend":null}}},
{"data":{"name":"cB"},
"mark":{"type":"line","interpolate":"monotone","strokeWidth":1.8},
"encoding":{
"x":{"field":"t","type":"quantitative","scale":{"domain":[400,500],"nice":false,"zero":false},"axis":null},
"y":{"field":"v","type":"quantitative","scale":{"domain":[0,0.7],"nice":false,"zero":false},"axis":null},
"color":{"field":"s","type":"nominal","scale":{"domain":["D","E","A","B"],"range":["#ee2a2e","#8d7f3e","#55b948","#2e3d8f"]},"legend":null}}},
{"data":{"name":"cc"},"transform":[{"filter":"datum.s == 'D'"}],
"mark":{"type":"line","interpolate":"monotone","strokeWidth":1.8},
"encoding":{
"x":{"field":"t","type":"quantitative","scale":{"domain":[400,500],"nice":false,"zero":false},"axis":null},
"y":{"field":"v","type":"quantitative","scale":{"domain":[1.2,1.5],"nice":false,"zero":false},"axis":{"orient":"right","values":[1.2,1.3,1.4,1.5],"format":".1f","title":"Cyclin D/Cdk4-6","titleFontSize":15.5,"titleAngle":270,"titleAlign":"center","titleBaseline":"alphabetic","titleX":38.5,"titleY":117}},
"color":{"field":"s","type":"nominal","scale":{"domain":["D","E","A","B"],"range":["#ee2a2e","#8d7f3e","#55b948","#2e3d8f"]},"legend":null}}},
{"data":{"values":[]},"mark":{"type":"point","opacity":0},
"encoding":{
"x":{"field":"t","type":"quantitative","scale":{"domain":[400,500],"nice":false,"zero":false},"axis":{"orient":"bottom","values":[410,430,450,470,490],"tickSize":2,"labels":false,"domain":false,"title":"c","titleFontSize":25,"titleAlign":"left","titleBaseline":"alphabetic","titleAngle":0,"titleX":-44.7,"titleY":-222}},
"y":{"field":"v","type":"quantitative","scale":{"domain":[0,0.7],"nice":false,"zero":false},"axis":{"orient":"left","values":[0.1,0.3,0.5,0.7],"tickSize":2,"labels":false,"domain":false,"title":null}}}},
{"data":{"values":[]},"mark":{"type":"point","opacity":0},
"encoding":{
"y":{"field":"v","type":"quantitative","scale":{"domain":[1.2,1.5],"nice":false,"zero":false},"axis":{"orient":"right","values":[1.25,1.35,1.45],"tickSize":2,"labels":false,"domain":false,"title":null}}}}
]},
{"width":287,"height":212,
"resolve":{"scale":{"y":"independent"},"axis":{"x":"independent","y":"independent"}},
"layer":[
{"data":{"name":"kc"},"transform":[{"filter":"datum.s != 'D'"}],
"mark":{"type":"line","interpolate":"monotone","strokeWidth":1.8},
"encoding":{
"x":{"field":"t","type":"quantitative","scale":{"domain":[400,500],"nice":false,"zero":false},"axis":{"orient":"bottom","values":[400,420,440,460,480,500],"format":"d","title":"t","titleX":143.5,"titleY":31.5,"titleAlign":"center","titleBaseline":"alphabetic","titleAngle":0}},
"y":{"field":"v","type":"quantitative","scale":{"domain":[0,0.7],"nice":false,"zero":false},"axis":{"orient":"left","values":[0,0.2,0.4,0.6],"format":".1f","title":"Cyclin E, A/Cdk2, Cyclin B/Cdk1","titleAngle":270,"titleAlign":"center","titleBaseline":"alphabetic","titleX":-29.5,"titleY":102.5}},
"color":{"field":"s","type":"nominal","scale":{"domain":["D","A","W","E","B"],"range":["#ee2a2e","#55b948","#111111","#8d7f3e","#2e3d8f"]},"legend":{"orient":"none","legendX":9,"legendY":-10,"title":null,"columns":2,"columnPadding":0,"rowPadding":8,"symbolType":"stroke","symbolSize":400,"symbolStrokeWidth":1.5,"labelFontSize":14,"labelOffset":7,"labelExpr":"datum.label == 'D' ? 'Cyclin D/Cdk4-6' : datum.label == 'E' ? 'Cyclin E/Cdk2' : datum.label == 'A' ? 'Cyclin A/Cdk2' : datum.label == 'B' ? 'Cyclin B/Cdk1' : 'Wee1'"}}}},
{"data":{"name":"kB"},
"mark":{"type":"line","interpolate":"monotone","strokeWidth":1.8},
"encoding":{
"x":{"field":"t","type":"quantitative","scale":{"domain":[400,500],"nice":false,"zero":false},"axis":null},
"y":{"field":"v","type":"quantitative","scale":{"domain":[0,0.7],"nice":false,"zero":false},"axis":null},
"color":{"field":"s","type":"nominal","scale":{"domain":["D","A","W","E","B"],"range":["#ee2a2e","#55b948","#111111","#8d7f3e","#2e3d8f"]},"legend":{"orient":"none","legendX":9,"legendY":-10,"title":null,"columns":2,"columnPadding":0,"rowPadding":8,"symbolType":"stroke","symbolSize":400,"symbolStrokeWidth":1.5,"labelFontSize":14,"labelOffset":7,"labelExpr":"datum.label == 'D' ? 'Cyclin D/Cdk4-6' : datum.label == 'E' ? 'Cyclin E/Cdk2' : datum.label == 'A' ? 'Cyclin A/Cdk2' : datum.label == 'B' ? 'Cyclin B/Cdk1' : 'Wee1'"}}}},
{"data":{"name":"kc"},"transform":[{"filter":"datum.s == 'D'"}],
"mark":{"type":"line","interpolate":"monotone","strokeWidth":1.8},
"encoding":{
"x":{"field":"t","type":"quantitative","scale":{"domain":[400,500],"nice":false,"zero":false},"axis":null},
"y":{"field":"v","type":"quantitative","scale":{"domain":[1.2,1.5],"nice":false,"zero":false},"axis":{"orient":"right","values":[1.2,1.3,1.4,1.5],"format":".1f","title":"Cyclin D/Cdk4-6","titleFontSize":15.5,"titleAngle":270,"titleAlign":"center","titleBaseline":"alphabetic","titleX":38.5,"titleY":120}},
"color":{"field":"s","type":"nominal","scale":{"domain":["D","A","W","E","B"],"range":["#ee2a2e","#55b948","#111111","#8d7f3e","#2e3d8f"]},"legend":{"orient":"none","legendX":9,"legendY":-10,"title":null,"columns":2,"columnPadding":0,"rowPadding":8,"symbolType":"stroke","symbolSize":400,"symbolStrokeWidth":1.5,"labelFontSize":14,"labelOffset":7,"labelExpr":"datum.label == 'D' ? 'Cyclin D/Cdk4-6' : datum.label == 'E' ? 'Cyclin E/Cdk2' : datum.label == 'A' ? 'Cyclin A/Cdk2' : datum.label == 'B' ? 'Cyclin B/Cdk1' : 'Wee1'"}}}},
{"data":{"values":[]},"mark":{"type":"point","opacity":0},
"encoding":{
"x":{"field":"t","type":"quantitative","scale":{"domain":[400,500],"nice":false,"zero":false},"axis":{"orient":"bottom","values":[410,430,450,470,490],"tickSize":2,"labels":false,"domain":false,"title":"d","titleFontSize":25,"titleAlign":"left","titleBaseline":"alphabetic","titleAngle":0,"titleX":-45.3,"titleY":-222}},
"y":{"field":"v","type":"quantitative","scale":{"domain":[0,0.7],"nice":false,"zero":false},"axis":{"orient":"left","values":[0.1,0.3,0.5,0.7],"tickSize":2,"labels":false,"domain":false,"title":null}}}},
{"data":{"values":[]},"mark":{"type":"point","opacity":0},
"encoding":{
"y":{"field":"v","type":"quantitative","scale":{"domain":[1.2,1.5],"nice":false,"zero":false},"axis":{"orient":"right","values":[1.25,1.35,1.45],"tickSize":2,"labels":false,"domain":false,"title":null}}}}
]},
{"width":287,"height":212,
"resolve":{"scale":{"y":"independent"},"axis":{"x":"independent","y":"independent"}},
"layer":[
{"data":{"name":"cB"},
"mark":{"type":"line","interpolate":"monotone","strokeWidth":1.8,"color":"#3f52a3"},
"encoding":{
"x":{"field":"t","type":"quantitative","scale":{"domain":[400,500],"nice":false,"zero":false},"axis":{"orient":"bottom","values":[400,420,440,460,480,500],"format":"d","title":"t","titleX":143.5,"titleY":31,"titleAlign":"center","titleBaseline":"alphabetic","titleAngle":0}},
"y":{"field":"v","type":"quantitative","scale":{"domain":[0,0.5],"nice":false,"zero":false},"axis":{"orient":"left","values":[0,0.1,0.2,0.3,0.4,0.5],"format":".1f","title":"Cyclin B/Cdk1","titleAngle":270,"titleAlign":"center","titleBaseline":"alphabetic","titleX":-31,"titleY":112.7}}}},
{"data":{"name":"cW"},
"mark":{"type":"line","interpolate":"monotone","strokeWidth":1.8,"color":"#111111"},
"encoding":{
"x":{"field":"t","type":"quantitative","scale":{"domain":[400,500],"nice":false,"zero":false},"axis":null},
"y":{"field":"v","type":"quantitative","scale":{"domain":[0,2.5],"nice":false,"zero":false},"axis":{"orient":"right","values":[0,0.5,1,1.5,2,2.5],"format":".1f","title":"Wee1","titleAngle":270,"titleAlign":"center","titleBaseline":"alphabetic","titleX":38,"titleY":100}}}},
{"data":{"values":[]},"mark":{"type":"point","opacity":0},
"encoding":{
"x":{"field":"t","type":"quantitative","scale":{"domain":[400,500],"nice":false,"zero":false},"axis":{"orient":"bottom","values":[410,430,450,470,490],"tickSize":2,"labels":false,"domain":false,"title":"e","titleFontSize":25,"titleAlign":"left","titleBaseline":"alphabetic","titleAngle":0,"titleX":-45.7,"titleY":-219.3}},
"y":{"field":"v","type":"quantitative","scale":{"domain":[0,0.5],"nice":false,"zero":false},"axis":{"orient":"left","values":[0.05,0.15,0.25,0.35,0.45],"tickSize":2,"labels":false,"domain":false,"title":null}}}},
{"data":{"values":[]},"mark":{"type":"point","opacity":0},
"encoding":{
"y":{"field":"v","type":"quantitative","scale":{"domain":[0,2.5],"nice":false,"zero":false},"axis":{"orient":"right","values":[0.25,0.75,1.25,1.75,2.25],"tickSize":2,"labels":false,"domain":false,"title":null}}}}
]},
{"width":287,"height":212,
"resolve":{"scale":{"y":"independent"},"axis":{"x":"independent","y":"independent"}},
"layer":[
{"data":{"name":"kB"},
"mark":{"type":"line","interpolate":"monotone","strokeWidth":1.8,"color":"#3a4a95"},
"encoding":{
"x":{"field":"t","type":"quantitative","scale":{"domain":[400,500],"nice":false,"zero":false},"axis":{"orient":"bottom","values":[400,420,440,460,480,500],"format":"d","title":"t","titleX":143.5,"titleY":31,"titleAlign":"center","titleBaseline":"alphabetic","titleAngle":0}},
"y":{"field":"v","type":"quantitative","scale":{"domain":[0,0.5],"nice":false,"zero":false},"axis":{"orient":"left","values":[0,0.1,0.2,0.3,0.4,0.5],"format":".1f","title":"Cyclin B/Cdk1","titleAngle":270,"titleAlign":"center","titleBaseline":"alphabetic","titleX":-31,"titleY":113}}}},
{"data":{"name":"kW"},
"mark":{"type":"line","interpolate":"monotone","strokeWidth":1.8,"color":"#111111"},
"encoding":{
"x":{"field":"t","type":"quantitative","scale":{"domain":[400,500],"nice":false,"zero":false},"axis":null},
"y":{"field":"v","type":"quantitative","scale":{"domain":[0,2.5],"nice":false,"zero":false},"axis":{"orient":"right","values":[0,0.5,1,1.5,2,2.5],"format":".1f","title":"Wee1","titleAngle":270,"titleAlign":"center","titleBaseline":"alphabetic","titleX":38,"titleY":99}}}},
{"data":{"values":[]},"mark":{"type":"point","opacity":0},
"encoding":{
"x":{"field":"t","type":"quantitative","scale":{"domain":[400,500],"nice":false,"zero":false},"axis":{"orient":"bottom","values":[410,430,450,470,490],"tickSize":2,"labels":false,"domain":false,"title":"f","titleFontSize":25,"titleAlign":"left","titleBaseline":"alphabetic","titleAngle":0,"titleX":-45.3,"titleY":-219.3}},
"y":{"field":"v","type":"quantitative","scale":{"domain":[0,0.5],"nice":false,"zero":false},"axis":{"orient":"left","values":[0.05,0.15,0.25,0.35,0.45],"tickSize":2,"labels":false,"domain":false,"title":null}}}},
{"data":{"values":[]},"mark":{"type":"point","opacity":0},
"encoding":{
"y":{"field":"v","type":"quantitative","scale":{"domain":[0,2.5],"nice":false,"zero":false},"axis":{"orient":"right","values":[0.25,0.75,1.25,1.75,2.25],"tickSize":2,"labels":false,"domain":false,"title":null}}}}
]}
]
}
